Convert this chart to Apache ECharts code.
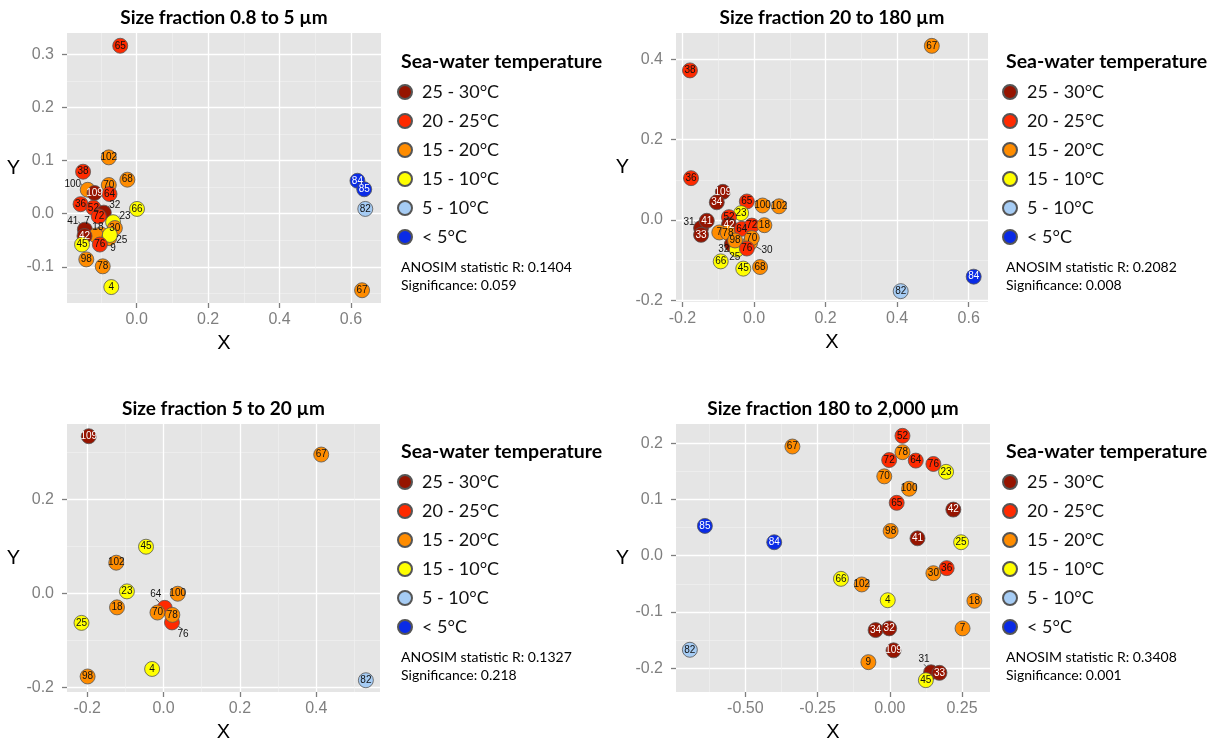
<!DOCTYPE html>
<html><head><meta charset="utf-8">
<script src="https://cdn.jsdelivr.net/npm/echarts@6/dist/echarts.min.js"></script>
<style>html,body{margin:0;padding:0;background:#fff}#c{width:1217px;height:743px}</style>
</head><body><div id="c"></div>
<script>
// ---------- data ----------
const classLabels = ['25 - 30°C', '20 - 25°C', '15 - 20°C', '15 - 10°C', '5 - 10°C', '< 5°C'];
const sampleIds   = [109, 41, 42, 32, 34, 33, 31, 65, 38, 36, 52, 72, 64, 76, 102, 68, 70, 100, 7, 18, 30, 98, 78, 67, 9, 66, 23, 25, 45, 4, 82, 84, 85];
const sampleClass = [0,   0,  0,  0,  0,  0,  0,  1,  1,  1,  1,  1,  1,  1,  2,   2,  2,  2,   2, 2,  2,  2,  2,  2,  2, 3,  3,  3,  3,  3, 4,  5,  5];

const panelTitles = ['Size fraction 0.8 to 5 µm', 'Size fraction 20 to 180 µm', 'Size fraction 5 to 20 µm', 'Size fraction 180 to 2,000 µm'];
const anosimR = ['0.1404', '0.2082', '0.1327', '0.3408'];
const significance = ['0.059', '0.008', '0.218', '0.001'];

// Panel 1: 0.8 to 5 µm
const p1Ids = [65, 102, 38, 68, 70, 100, 109, 64, 36, 66, 52, 32, 72, 23, 30, 41, 18, 7, 9, 25, 42, 45, 76, 98, 78, 4, 84, 85, 82, 67];
const p1X = [-0.046, -0.078, -0.150, -0.026, -0.078, -0.137, -0.118, -0.076, -0.157, 0.001, -0.121, -0.092, -0.106, -0.066, -0.061, -0.145, -0.100, -0.114, -0.077, -0.075, -0.146, -0.153, -0.103, -0.141, -0.095, -0.071, 0.618, 0.637, 0.640, 0.631];
const p1Y = [0.316, 0.106, 0.079, 0.064, 0.054, 0.045, 0.039, 0.037, 0.018, 0.009, 0.011, 0.002, -0.005, -0.016, -0.027, -0.030, -0.039, -0.041, -0.046, -0.040, -0.042, -0.058, -0.058, -0.086, -0.099, -0.138, 0.062, 0.046, 0.009, -0.144];

// Panel 2: 20 to 180 µm
const p2Ids = [38, 36, 109, 34, 65, 100, 102, 23, 31, 41, 33, 52, 42, 7, 78, 32, 25, 64, 72, 18, 98, 30, 70, 76, 66, 45, 68, 67, 82, 84];
const p2X = [-0.179, -0.176, -0.087, -0.104, -0.020, 0.024, 0.070, -0.036, -0.148, -0.132, -0.148, -0.070, -0.070, -0.097, -0.073, -0.062, -0.048, -0.034, -0.006, 0.029, -0.053, -0.011, -0.006, -0.020, -0.093, -0.030, 0.017, 0.497, 0.410, 0.614];
const p2Y = [0.372, 0.104, 0.070, 0.044, 0.046, 0.036, 0.034, 0.017, -0.020, -0.002, -0.037, 0.007, -0.012, -0.031, -0.032, -0.061, -0.074, -0.022, -0.014, -0.013, -0.051, -0.057, -0.045, -0.071, -0.103, -0.121, -0.117, 0.433, -0.177, -0.141];

// Panel 3: 5 to 20 µm
const p3Ids = [109, 67, 45, 102, 23, 100, 64, 18, 70, 76, 78, 25, 4, 98, 82];
const p3X = [-0.196, 0.413, -0.046, -0.124, -0.096, 0.037, 0.003, -0.122, -0.016, 0.022, 0.023, -0.215, -0.030, -0.199, 0.530];
const p3Y = [0.334, 0.295, 0.099, 0.065, 0.004, -0.001, -0.031, -0.030, -0.041, -0.062, -0.046, -0.063, -0.161, -0.177, -0.185];

// Panel 4: 180 to 2,000 µm
const p4Ids = [52, 67, 78, 72, 64, 76, 23, 70, 100, 65, 42, 85, 98, 41, 84, 25, 36, 30, 66, 102, 4, 18, 34, 32, 7, 82, 109, 9, 31, 33, 45];
const p4X = [0.044, -0.337, 0.044, -0.002, 0.090, 0.151, 0.195, -0.019, 0.067, 0.024, 0.220, -0.640, 0.003, 0.096, -0.400, 0.247, 0.197, 0.151, -0.169, -0.097, -0.007, 0.293, -0.049, -0.002, 0.252, -0.692, 0.013, -0.074, 0.143, 0.172, 0.125];
const p4Y = [0.213, 0.194, 0.184, 0.170, 0.169, 0.163, 0.149, 0.141, 0.119, 0.094, 0.082, 0.053, 0.044, 0.031, 0.024, 0.024, -0.022, -0.031, -0.041, -0.051, -0.079, -0.080, -0.132, -0.129, -0.129, -0.167, -0.168, -0.189, -0.207, -0.208, -0.221];

// tick labels
const p1XTicks = [0.0, 0.2, 0.4, 0.6];
const p1YTicks = [-0.1, 0.0, 0.1, 0.2, 0.3];
const p2XTicks = [-0.2, 0.0, 0.2, 0.4, 0.6];
const p2YTicks = [-0.2, 0.0, 0.2, 0.4];
const p3XTicks = [-0.2, 0.0, 0.2, 0.4];
const p3YTicks = [-0.2, 0.0, 0.2];
const p4XTicks = [-0.50, -0.25, 0.00, 0.25];
const p4YTicks = [-0.2, -0.1, 0.0, 0.1, 0.2];

// ---------- layout / style ----------
const classColors = ['#961400', '#FF2A00', '#FF8C00', '#FFFF00', '#A6CCF4', '#0A2BE6'];
const classTextColors = ['#ffffff', '#111111', '#111111', '#111111', '#111111', '#ffffff'];
const gridBoxes = [
  {left: 67, top: 33, width: 314, height: 270},
  {left: 676, top: 33, width: 312, height: 269},
  {left: 67, top: 424, width: 313, height: 270},
  {left: 676, top: 424, width: 314, height: 270}
];
const xRanges = [[-0.195, 0.684], [-0.218, 0.654], [-0.253, 0.567], [-0.740, 0.347]];
const yRanges = [[-0.168, 0.340], [-0.204, 0.465], [-0.210, 0.360], [-0.242, 0.234]];
const xSteps = [0.2, 0.2, 0.2, 0.25];
const ySteps = [0.1, 0.2, 0.2, 0.1];
const xDec = [1, 1, 1, 2];
const yDec = [1, 1, 1, 1];
const legendPos = [[397, 83], [1002, 83], [397, 473], [1002, 473]];
// label nudges for labels drawn outside their point (dx, dy in px)
const labelNudge = [
  {100: [-15, -6], 32: [11, -7], 23: [12, -6], 41: [-12, -8], 7: [-9, -14], 18: [-3, -7], 25: [12, 5], 9: [4, 10]},
  {31: [-12, -6], 32: [-8, 5], 25: [-2, 8], 30: [17, 7]},
  {64: [-9, -14], 76: [11, 12]},
  {31: [-7, -13]}
];

const panels = [
  {ids: p1Ids, xs: p1X, ys: p1Y, xt: p1XTicks, yt: p1YTicks},
  {ids: p2Ids, xs: p2X, ys: p2Y, xt: p2XTicks, yt: p2YTicks},
  {ids: p3Ids, xs: p3X, ys: p3Y, xt: p3XTicks, yt: p3YTicks},
  {ids: p4Ids, xs: p4X, ys: p4Y, xt: p4XTicks, yt: p4YTicks}
];

function classOf(id) { return sampleClass[sampleIds.indexOf(id)]; }
function fmt(v, d) { return (Math.abs(v) < 1e-9 ? 0 : v).toFixed(d); }

const tickGray = '#7F7F7F';
const grids = gridBoxes.map(b => Object.assign({show: true, backgroundColor: '#E5E5E5', borderWidth: 0, containLabel: false}, b));

function makeAxis(k, isX) {
  const ticks = isX ? panels[k].xt : panels[k].yt;
  return {
    type: 'value', gridIndex: k,
    min: (isX ? xRanges : yRanges)[k][0], max: (isX ? xRanges : yRanges)[k][1],
    minInterval: (isX ? xSteps : ySteps)[k], maxInterval: (isX ? xSteps : ySteps)[k],
    name: isX ? 'X' : 'Y', nameLocation: 'middle', nameRotate: 0, nameGap: isX ? 30 : 47,
    nameTextStyle: {fontSize: 20, color: '#000', fontFamily: 'Liberation Sans'},
    axisLine: {show: false, onZero: false},
    axisTick: {show: true, length: 5, lineStyle: {color: tickGray, width: 1.3}, customValues: ticks},
    axisLabel: {color: tickGray, fontSize: 16, fontFamily: 'Liberation Sans', margin: isX ? 9 : 13,
      customValues: ticks, formatter: v => fmt(v, (isX ? xDec : yDec)[k])},
    splitLine: {show: true, lineStyle: {color: '#FFFFFF', width: 1.3}, customValues: ticks},
    minorTick: {show: false, splitNumber: 2},
    minorSplitLine: {show: true, lineStyle: {color: '#F2F2F2', width: 0.6}}
  };
}
const xAxes = panels.map((p, k) => makeAxis(k, true));
const yAxes = panels.map((p, k) => makeAxis(k, false));

const series = [];
// legend-only series, one per temperature class
classLabels.forEach((name, c) => {
  series.push({type: 'scatter', name, xAxisIndex: 0, yAxisIndex: 0, data: [],
    itemStyle: {color: classColors[c], opacity: 1, borderColor: '#555', borderWidth: 0.8}});
});
// one point series per panel
panels.forEach((p, k) => {
  const nudge = labelNudge[k];
  series.push({
    type: 'scatter', name: 'panel' + (k + 1), xAxisIndex: k, yAxisIndex: k,
    symbolSize: 15, animation: false, emphasis: {disabled: true},
    label: {show: true, position: 'inside', fontSize: 10, fontFamily: 'Liberation Sans', formatter: q => String(q.value[2])},
    labelLine: {show: false, lineStyle: {color: '#222', width: 0.8}},
    labelLayout: q => { const id = p.ids[q.dataIndex]; const n = nudge[id]; return n ? {dx: n[0], dy: n[1]} : {}; },
    data: p.ids.map((id, i) => {
      const c = classOf(id);
      const out = !!nudge[id];
      return {
        value: [p.xs[i], p.ys[i], id],
        itemStyle: {color: classColors[c], opacity: 1, borderColor: '#555', borderWidth: 0.8},
        label: {color: out ? '#111' : classTextColors[c]},
        labelLine: {show: out}
      };
    })
  });
});

const legends = legendPos.map(pos => ({
  left: pos[0], top: pos[1], orient: 'vertical', padding: 0,
  data: classLabels, icon: 'circle', itemWidth: 24, itemHeight: 14, itemGap: 11,
  selectedMode: false,
  textStyle: {fontSize: 18, lineHeight: 18, fontFamily: 'Lato', color: '#111'}
}));

const graphics = [];
gridBoxes.forEach((b, k) => {
  graphics.push({type: 'text', x: b.left + b.width / 2, y: b.top - 15, silent: true,
    style: {text: panelTitles[k], align: 'center', verticalAlign: 'middle', fontSize: 19, fontWeight: 'bold', fontFamily: 'Lato', fill: '#000'}});
  const lx = legendPos[k][0] + 4, ly = legendPos[k][1];
  graphics.push({type: 'text', x: lx, y: ly - 21, silent: true,
    style: {text: 'Sea-water temperature', align: 'left', verticalAlign: 'middle', fontSize: 19.5, fontWeight: 'bold', fontFamily: 'Lato', fill: '#000'}});
  graphics.push({type: 'text', x: lx, y: ly + 184, silent: true,
    style: {text: 'ANOSIM statistic R: ' + anosimR[k], align: 'left', verticalAlign: 'middle', fontSize: 14, fontFamily: 'Lato', fill: '#000'}});
  graphics.push({type: 'text', x: lx, y: ly + 202, silent: true,
    style: {text: 'Significance: ' + significance[k], align: 'left', verticalAlign: 'middle', fontSize: 14, fontFamily: 'Lato', fill: '#000'}});
});

const chart = echarts.init(document.getElementById('c'), null, {renderer: 'canvas'});
chart.setOption({
  animation: false,
  backgroundColor: '#ffffff',
  grid: grids, xAxis: xAxes, yAxis: yAxes,
  legend: legends, series, graphic: graphics
});
</script></body></html>
